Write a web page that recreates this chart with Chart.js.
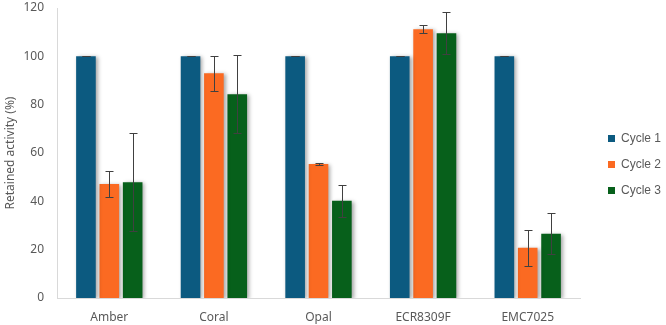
<!DOCTYPE html>
<html>
<head>
<meta charset="utf-8">
<script src="https://cdn.jsdelivr.net/npm/chart.js@4"></script>
<style>
  body { margin: 0; background: #fff; }
</style>
</head>
<body>
<canvas id="chart" width="666" height="325"></canvas>
<script>
const categories = ['Amber', 'Coral', 'Opal', 'ECR8309F', 'EMC7025'];
const seriesNames = ['Cycle 1', 'Cycle 2', 'Cycle 3'];
const cycle1 = [100, 100, 100, 100, 100];
const cycle2 = [47.2, 93, 55.4, 111.2, 20.8];
const cycle3 = [47.9, 84.3, 40.2, 109.6, 26.6];
// standard deviations
const err1 = [0, 0, 0, 0, 0];
const err2 = [5.2, 7.3, 0.5, 1.6, 7.4];
const err3 = [20.2, 16.2, 6.5, 8.6, 8.5];
const yTicks = [0, 20, 40, 60, 80, 100, 120];

const colors = ['#0C5A80', '#FB6A22', '#07601B'];
const errors = [err1, err2, err3];
const textColor = '#595959';

// shadow under the bars + error bars on top
const barExtras = {
    id: 'barExtras',
    beforeDatasetsDraw(chart) {
        const ctx = chart.ctx;
        ctx.save();
        ctx.shadowColor = 'rgba(0,0,0,0.35)';
        ctx.shadowBlur = 4;
        ctx.shadowOffsetX = 2;
        ctx.shadowOffsetY = 1;
    },
    afterDatasetsDraw(chart) {
        const ctx = chart.ctx;
        ctx.restore();
        const y = chart.scales.y;
        ctx.save();
        ctx.strokeStyle = '#404040';
        ctx.lineWidth = 1;
        chart.data.datasets.forEach((ds, i) => {
            const meta = chart.getDatasetMeta(i);
            meta.data.forEach((bar, j) => {
                const v = ds.data[j];
                const e = errors[i][j];
                const top = Math.round(y.getPixelForValue(v + e)) + 0.5;
                const bot = Math.round(y.getPixelForValue(v - e)) + 0.5;
                const x = Math.round(bar.x) + 0.5;
                ctx.beginPath();
                ctx.moveTo(x, top); ctx.lineTo(x, bot);
                ctx.moveTo(x - 4, top); ctx.lineTo(x + 4, top);
                ctx.moveTo(x - 4, bot); ctx.lineTo(x + 4, bot);
                ctx.stroke();
            });
        });
        ctx.restore();
    }
};

// give the legend a wider box so the plot ends where the reference does
const legendPlace = {
    id: 'legendPlace',
    beforeInit(chart) {
        const fit = chart.legend.fit;
        chart.legend.fit = function () {
            fit.call(this);
            this.width = 86;
        };
    },
    afterLayout(chart) {
        const lg = chart.legend;
        lg.left += 14; lg.right += 14;
        lg.top -= 2; lg.bottom -= 2;
    }
};

new Chart(document.getElementById('chart'), {
    type: 'bar',
    data: {
        labels: categories,
        datasets: [cycle1, cycle2, cycle3].map((d, i) => ({
            label: seriesNames[i],
            data: d,
            backgroundColor: colors[i],
            borderWidth: 0,
            categoryPercentage: 0.67,
            barPercentage: 0.84
        }))
    },
    options: {
        responsive: false,
        animation: false,
        devicePixelRatio: 1,
        layout: { padding: { top: 8, right: 0, bottom: 0, left: 0 } },
        font: { family: '"Noto Sans", sans-serif', size: 12 },
        scales: {
            x: {
                grid: { display: false, drawTicks: false },
                border: { color: '#d9d9d9' },
                ticks: { color: textColor, font: { size: 12 }, padding: 12 },
                afterFit(s) { s.height = 27; s.paddingLeft = 0; s.paddingRight = 0; }
            },
            y: {
                min: 0,
                max: 120,
                grid: { display: false, drawTicks: false },
                border: { color: '#d9d9d9' },
                afterBuildTicks(s) { s.ticks = yTicks.map(v => ({ value: v })); },
                ticks: { color: textColor, font: { size: 12 }, padding: 13 },
                title: {
                    display: true,
                    text: 'Retained activity (%)',
                    color: textColor,
                    font: { size: 12 },
                    padding: { top: 3, bottom: 0 }
                },
                afterFit(s) { s.width = 57; s.paddingTop = 0; s.paddingBottom = 0; }
            }
        },
        plugins: {
            legend: {
                position: 'right',
                labels: {
                    boxWidth: 7,
                    boxHeight: 7,
                    padding: 14,
                    color: textColor,
                    font: { size: 12 }
                }
            },
            tooltip: { enabled: false }
        }
    },
    plugins: [barExtras, legendPlace]
});
</script>
</body>
</html>
